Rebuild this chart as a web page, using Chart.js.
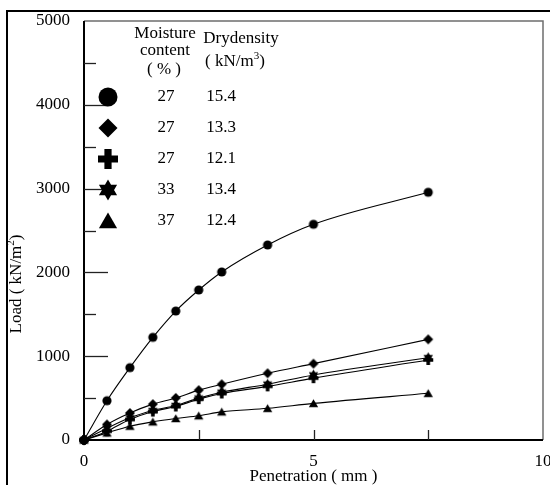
<!DOCTYPE html>
<html>
<head>
<meta charset="utf-8">
<script src="https://cdn.jsdelivr.net/npm/chart.js@4.4.1/dist/chart.umd.min.js"></script>
<style>
  html, body { margin: 0; padding: 0; background: #fff; }
  #wrap { width: 550px; height: 485px; position: relative; }
</style>
</head>
<body>
<div id="wrap"><canvas id="c" width="550" height="485"></canvas></div>
<script>
// ---- data ----
const penetration = [0, 0.5, 1, 1.5, 2, 2.5, 3, 4, 5, 7.5];
const load_w27_d154 = [0, 469, 863, 1225, 1539, 1790, 2005, 2327, 2574, 2956];
const load_w27_d133 = [0, 185, 322, 428, 502, 595, 665, 796, 911, 1201];
const load_w27_d121 = [0, 105, 245, 340, 400, 488, 555, 640, 738, 955];
const load_w33_d134 = [0, 140, 265, 352, 412, 500, 570, 666, 776, 982];
const load_w37_d124 = [0, 85, 165, 217, 257, 290, 336, 378, 437, 557];
const moistureContent = ['27', '27', '27', '33', '37'];
const dryDensity = ['15.4', '13.3', '12.1', '13.4', '12.4'];
const markerShapes = ['circle', 'diamond', 'plus', 'hexagram', 'triangle'];
const xTickValues = [0, 5, 10];
const yTickValues = [0, 1000, 2000, 3000, 4000, 5000];

const seriesList = [load_w27_d154, load_w27_d133, load_w27_d121, load_w33_d134, load_w37_d124];

const FONT = '"Liberation Serif", "Times New Roman", serif';
const FS = 17;
const SUP = 11;

function shapePath(ctx, type, x, y, r) {
  ctx.beginPath();
  if (type === 'circle') {
    ctx.arc(x, y, r, 0, Math.PI * 2);
  } else if (type === 'diamond') {
    ctx.moveTo(x, y - r); ctx.lineTo(x + r, y); ctx.lineTo(x, y + r); ctx.lineTo(x - r, y); ctx.closePath();
  } else if (type === 'plus') {
    const w = r * 0.36;
    ctx.rect(x - r, y - w, 2 * r, 2 * w);
    ctx.rect(x - w, y - r, 2 * w, 2 * r);
  } else if (type === 'hexagram') {
    for (const base of [-90, 90]) {
      for (let k = 0; k < 3; k++) {
        const a = (base + k * 120) * Math.PI / 180;
        const px = x + r * Math.cos(a), py = y + r * Math.sin(a);
        if (k === 0) ctx.moveTo(px, py); else ctx.lineTo(px, py);
      }
      ctx.closePath();
    }
  } else if (type === 'triangle') {
    const yc = y + r * 0.2;
    for (let k = 0; k < 3; k++) {
      const a = (-90 + k * 120) * Math.PI / 180;
      const px = x + r * Math.cos(a), py = yc + r * Math.sin(a);
      if (k === 0) ctx.moveTo(px, py); else ctx.lineTo(px, py);
    }
    ctx.closePath();
  }
  ctx.fillStyle = '#000';
  ctx.fill('nonzero');
}

function markerCanvas(type, r) {
  const s = Math.ceil(2 * r + 2);
  const cv = document.createElement('canvas');
  cv.width = s; cv.height = s;
  shapePath(cv.getContext('2d'), type, s / 2, s / 2, r);
  return cv;
}
const dataMarkerRadius = { circle: 4.6, diamond: 5, plus: 5, hexagram: 5.4, triangle: 5.4 };
const legendMarkerRadius = { circle: 9.5, diamond: 9.5, plus: 10, hexagram: 10.5, triangle: 10.5 };

const datasets = seriesList.map((vals, i) => ({
  label: moistureContent[i] + ' / ' + dryDensity[i],
  data: penetration.map((x, j) => ({ x: x, y: vals[j] })),
  borderColor: '#000',
  borderWidth: 1.1,
  backgroundColor: '#000',
  pointStyle: markerCanvas(markerShapes[i], dataMarkerRadius[markerShapes[i]]),
  pointRadius: 5,
  cubicInterpolationMode: 'monotone',
  fill: false,
  clip: false
}));

function supText(ctx, cx, cy, base, sup, tail) {
  ctx.font = FS + 'px ' + FONT;
  const w1 = ctx.measureText(base).width;
  const w3 = ctx.measureText(tail).width;
  ctx.font = SUP + 'px ' + FONT;
  const w2 = ctx.measureText(sup).width;
  const sx = cx - (w1 + w2 + w3) / 2;
  ctx.textAlign = 'left';
  ctx.font = FS + 'px ' + FONT;
  ctx.fillText(base, sx, cy);
  ctx.font = SUP + 'px ' + FONT;
  ctx.fillText(sup, sx + w1, cy - 6);
  ctx.font = FS + 'px ' + FONT;
  ctx.fillText(tail, sx + w1 + w2, cy);
}

const decor = {
  id: 'decor',
  afterDraw(chart) {
    const ctx = chart.ctx;
    const a = chart.chartArea;
    const xs = chart.scales.x, ys = chart.scales.y;
    ctx.save();
    // outer frame
    ctx.fillStyle = '#000';
    ctx.fillRect(6, 10, 2, 475);
    ctx.fillRect(6, 10, 544, 2);
    // plot box: top/right gray
    ctx.strokeStyle = '#6e6e6e';
    ctx.lineWidth = 1.5;
    ctx.beginPath();
    ctx.moveTo(a.left, a.top); ctx.lineTo(a.right, a.top); ctx.lineTo(a.right, a.bottom);
    ctx.stroke();
    // left / bottom axes
    ctx.fillStyle = '#000';
    ctx.fillRect(a.left - 1, a.top, 2, a.bottom - a.top + 1);
    ctx.fillRect(a.left - 1, a.bottom - 1, a.right - a.left + 1, 2);
    // y ticks (inside)
    ctx.strokeStyle = '#222';
    ctx.lineWidth = 1.3;
    for (let v = 500; v < 5000; v += 500) {
      const py = Math.round(ys.getPixelForValue(v)) + 0.5;
      const len = (v % 1000 === 0) ? 24 : 12;
      ctx.beginPath(); ctx.moveTo(a.left, py); ctx.lineTo(a.left + len, py); ctx.stroke();
    }
    // x ticks (inside)
    for (const v of [2.5, 5, 7.5]) {
      const px = Math.round(xs.getPixelForValue(v)) + 0.5;
      ctx.beginPath(); ctx.moveTo(px, a.bottom); ctx.lineTo(px, a.bottom - 10); ctx.stroke();
    }
    // axis titles
    ctx.fillStyle = '#000';
    ctx.font = FS + 'px ' + FONT;
    ctx.textAlign = 'center';
    ctx.textBaseline = 'middle';
    ctx.fillText('Penetration ( mm )', xs.getPixelForValue(5), 477);
    ctx.save();
    ctx.translate(17, 284);
    ctx.rotate(-Math.PI / 2);
    supText(ctx, 0, 0, 'Load ( kN/m', '2', ')');
    ctx.restore();
    // legend table
    ctx.textAlign = 'center';
    ctx.textBaseline = 'middle';
    ctx.font = FS + 'px ' + FONT;
    ctx.fillText('Moisture', 165, 34);
    ctx.fillText('content', 165, 51);
    ctx.fillText('( % )', 164, 70);
    ctx.fillText('Drydensity', 241, 39);
    supText(ctx, 235, 62, '( kN/m', '3', ')');
    ctx.textAlign = 'center';
    ctx.font = FS + 'px ' + FONT;
    const rowsY = [97, 128, 159, 190, 221];
    for (let i = 0; i < markerShapes.length; i++) {
      shapePath(ctx, markerShapes[i], 108, rowsY[i], legendMarkerRadius[markerShapes[i]]);
      ctx.fillStyle = '#000';
      ctx.fillText(moistureContent[i], 166, rowsY[i]);
      ctx.fillText(dryDensity[i], 221, rowsY[i]);
    }
    ctx.restore();
  }
};

new Chart(document.getElementById('c'), {
  type: 'line',
  data: { datasets: datasets },
  options: {
    responsive: false,
    animation: false,
    devicePixelRatio: 1,
    layout: { padding: { left: 0, right: 7, top: 21, bottom: 0 } },
    plugins: { legend: { display: false }, tooltip: { enabled: false } },
    scales: {
      x: {
        type: 'linear', min: 0, max: 10,
        afterBuildTicks: (s) => { s.ticks = xTickValues.map(v => ({ value: v })); },
        afterFit: (s) => { s.height = 45; s.paddingLeft = 0; s.paddingRight = 0; },
        grid: { display: false, drawTicks: false },
        border: { display: false },
        ticks: { color: '#000', padding: 11, maxRotation: 0, font: { family: FONT, size: FS },
                 callback: (v) => String(v) }
      },
      y: {
        type: 'linear', min: 0, max: 5000,
        afterBuildTicks: (s) => { s.ticks = yTickValues.map(v => ({ value: v })); },
        afterFit: (s) => { s.width = 84; s.paddingTop = 0; s.paddingBottom = 0; },
        grid: { display: false, drawTicks: false },
        border: { display: false },
        ticks: { color: '#000', padding: 14, font: { family: FONT, size: FS },
                 callback: (v) => String(v) }
      }
    }
  },
  plugins: [decor]
});
</script>
</body>
</html>
